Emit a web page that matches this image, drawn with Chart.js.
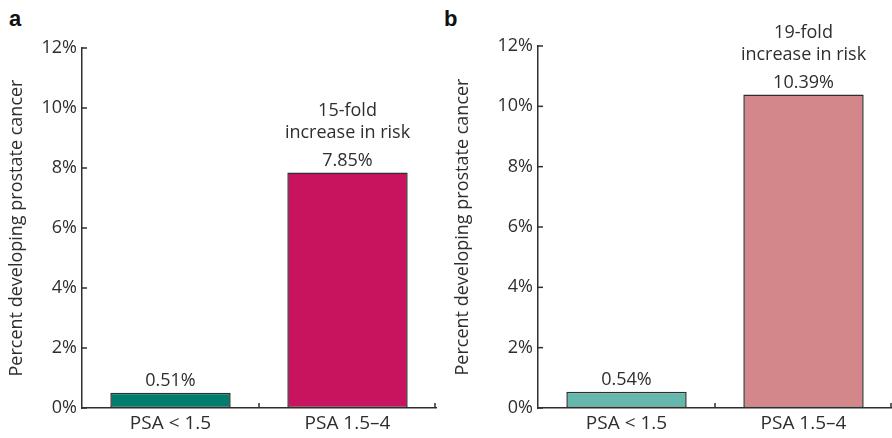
<!DOCTYPE html>
<html>
<head>
<meta charset="utf-8">
<script src="https://cdn.jsdelivr.net/npm/chart.js@4.4.1/dist/chart.umd.min.js"></script>
<style>
  body { margin: 0; background: #fff; }
  .panel { position: absolute; top: 0; width: 446px; height: 438px; }
  .letter { position: absolute; font: bold 22px "Liberation Sans", Arial, sans-serif; color: #111; }
</style>
</head>
<body>
<div class="letter" style="left:9px; top:6px;">a</div>
<div class="letter" style="left:444px; top:6px;">b</div>
<div class="panel" style="left:0"><canvas id="chartA" width="446" height="438"></canvas></div>
<div class="panel" style="left:446px"><canvas id="chartB" width="446" height="438"></canvas></div>
<script>
const categories = ['PSA < 1.5', 'PSA 1.5–4'];
const valuesA = [0.51, 7.85];
const valuesB = [0.54, 10.39];
const colorsA = ['#007d6c', '#c8145e'];
const colorsB = ['#66b8ad', '#d4878b'];
const notesA = ['15-fold', 'increase in risk'];
const notesB = ['19-fold', 'increase in risk'];
const yTitle = 'Percent developing prostate cancer';

const FONT = '"Open Sans", sans-serif';
const INK = '#2e2e2e';

// draws the small inward tick marks plus the labels above bars
const decorPlugin = {
  id: 'decor',
  afterDatasetsDraw(chart, args, opts) {
    const ctx = chart.ctx;
    const y = chart.scales.y;
    const x = chart.scales.x;
    const area = chart.chartArea;
    ctx.save();
    ctx.strokeStyle = INK;
    ctx.lineWidth = 1.5;
    // y ticks, pointing right
    y.ticks.forEach(t => {
      const py = y.getPixelForValue(t.value);
      ctx.beginPath();
      ctx.moveTo(area.left, py);
      ctx.lineTo(area.left + 5, py);
      ctx.stroke();
    });
    // x ticks at category boundaries, pointing up
    const mid = (x.getPixelForValue(0) + x.getPixelForValue(1)) / 2;
    [mid, area.right - 1].forEach(px => {
      ctx.beginPath();
      ctx.moveTo(px, area.bottom);
      ctx.lineTo(px, area.bottom - 5);
      ctx.stroke();
    });
    // value labels
    const meta = chart.getDatasetMeta(0);
    const vals = chart.data.datasets[0].data;
    ctx.fillStyle = INK;
    ctx.font = '18px ' + FONT;
    ctx.textAlign = 'center';
    ctx.textBaseline = 'bottom';
    meta.data.forEach((bar, i) => {
      ctx.fillText(vals[i].toFixed(2) + '%', bar.x, bar.y - 3);
    });
    const last = meta.data[meta.data.length - 1];
    const note = opts.note;
    for (let k = note.length - 1, line = 0; k >= 0; k--, line++) {
      ctx.fillText(note[k], last.x, last.y - 31 - line * 22);
    }
    ctx.restore();
  }
};

function makeChart(id, values, colors, note, axisLeft, top, right) {
  return new Chart(document.getElementById(id), {
    type: 'bar',
    data: {
      labels: categories,
      datasets: [{
        data: values,
        backgroundColor: colors,
        borderColor: INK,
        borderWidth: 1.5,
        borderSkipped: false,
        barPercentage: 0.68,
        categoryPercentage: 1
      }]
    },
    options: {
      responsive: false,
      animation: false,
      layout: { padding: { top: top, right: right, left: 0, bottom: 0 } },
      plugins: {
        legend: { display: false },
        tooltip: { enabled: false },
        decor: { note: note }
      },
      scales: {
        x: {
          grid: { display: false, drawTicks: false },
          border: { display: true, color: INK, width: 1.5 },
          ticks: { color: INK, font: { family: FONT, size: 19 }, padding: 4 },
          afterFit(s) { s.height = 30; }
        },
        y: {
          min: 0,
          max: 12,
          ticks: {
            stepSize: 2,
            color: INK,
            padding: 5,
            font: { family: FONT, size: 18 },
            callback: v => v + '%'
          },
          grid: { display: false, drawTicks: false },
          border: { display: true, color: INK, width: 1.5 },
          title: {
            display: true,
            text: yTitle,
            color: INK,
            font: { family: FONT, size: 18 },
            padding: { top: 6, bottom: 2 }
          },
          afterFit(s) { s.width = axisLeft; }
        }
      }
    },
    plugins: [decorPlugin]
  });
}

makeChart('chartA', valuesA, colorsA, notesA, 82, 48, 10);
makeChart('chartB', valuesB, colorsB, notesB, 92, 46, 0);
</script>
</body>
</html>
